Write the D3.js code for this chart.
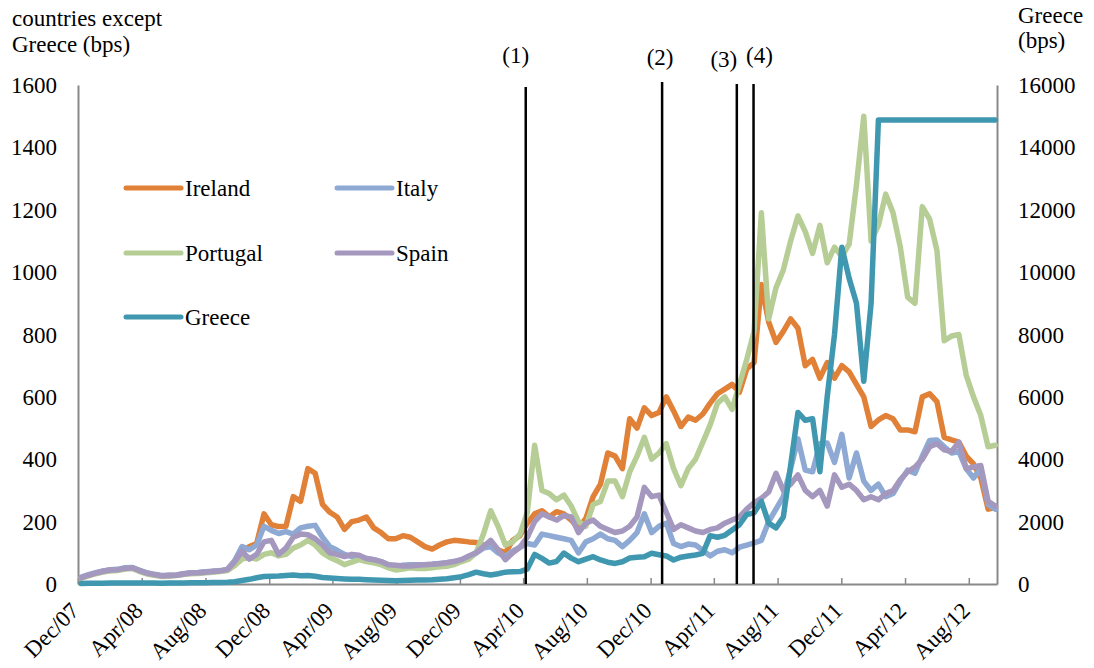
<!DOCTYPE html>
<html><head><meta charset="utf-8">
<script src="https://cdn.jsdelivr.net/npm/d3@7"></script>
<style>
body{margin:0;background:#fff}
svg text{font-family:"Liberation Serif","Times New Roman",serif;fill:#000}
</style>
</head><body>
<svg id="chart" width="1094" height="668"></svg>
<script>
// ---------------- DATA ----------------
const seriesStart = "2007-12-07";   // first observation
const seriesStepDays = 14;          // observations every two weeks

const ireland = [20,28,35,40,44,45,50,52,42,34,30,26,27,28,32,35,36,38,40,42,45,
  60,105,120,130,225,190,184,185,280,265,
  370,355,255,230,215,175,200,205,215,180,
  165,145,145,155,150,135,120,112,125,135,
  140,138,135,133,125,120,110,100,140,155,
  195,225,235,215,232,225,205,180,210,280,
  320,420,410,370,530,500,565,540,550,600,
  555,505,535,525,545,580,610,625,640,615,
  690,710,960,840,775,810,850,820,700,720,
  660,710,660,700,680,640,600,505,526,540,
  530,494,494,488,600,610,585,470,462,455,
  410,385,340,240,245];

const italy = [22,30,36,42,46,47,52,53,44,36,31,27,28,29,33,36,37,39,41,43,47,
  75,120,110,125,185,172,162,168,160,180,
  185,188,150,120,108,95,88,84,82,78,
  72,62,56,60,62,62,62,63,66,68,
  72,78,85,100,115,120,100,88,105,118,
  130,125,160,155,150,145,140,100,135,145,
  160,145,140,120,140,165,225,165,185,195,
  130,120,128,125,108,90,105,110,100,118,
  125,132,140,200,240,280,370,465,365,360,
  450,452,390,480,340,420,330,300,320,280,
  290,330,365,355,410,460,462,440,420,425,
  370,340,370,255,240];

const portugal = [18,26,33,38,42,43,48,50,40,32,28,24,25,27,30,33,34,36,38,40,43,
  60,80,85,80,95,100,90,95,115,125,
  140,125,100,85,75,62,70,78,72,68,
  62,52,45,48,52,50,50,52,55,57,
  62,72,80,100,160,235,185,125,135,160,
  230,445,300,290,270,285,250,200,185,255,
  265,330,330,280,360,410,470,400,420,450,
  370,315,370,400,455,510,580,600,560,640,
  720,810,1190,850,950,1007,1100,1180,1130,1060,
  1150,1030,1080,1050,1090,1280,1500,1100,1150,1250,
  1190,1080,920,900,1210,1170,1070,780,795,800,
  670,600,540,440,445];

const spain = [20,28,35,41,45,46,50,52,43,35,30,26,27,28,32,35,36,38,40,42,46,
  72,105,80,95,135,140,95,115,150,160,
  158,145,125,100,95,88,95,92,82,78,
  72,62,60,58,58,60,62,63,65,68,
  72,78,90,100,120,140,110,78,100,118,
  150,200,225,215,205,220,215,165,195,205,
  185,175,165,170,185,215,310,280,285,230,
  175,190,180,170,165,175,180,195,205,215,
  240,260,275,295,355,300,320,350,300,280,
  300,250,350,310,320,300,270,280,270,290,
  300,335,360,375,400,440,450,430,425,455,
  370,375,380,265,250];

// Greece, right axis
const greece = [20,22,25,28,30,32,35,35,32,30,30,28,30,32,35,38,40,42,45,50,55,
  70,110,150,200,240,250,255,270,290,265,
  270,250,210,190,175,160,150,150,140,130,
  120,110,105,110,120,125,128,135,150,170,
  200,235,300,380,330,290,330,380,395,400,
  480,950,820,670,720,990,830,715,800,875,
  770,700,660,715,834,860,875,984,940,900,
  770,860,900,930,984,1550,1500,1560,1730,1900,
  2230,2280,2650,1950,1800,2150,3800,5500,5250,5300,
  3600,6000,8000,10800,9800,9000,6500,9000,14876,14876,
  14876,14876,14876,14876,14876,14876,14876,14876,14876,14876,
  14876,14876,14876,14876,14876];

const seriesNames = ["Ireland","Italy","Portugal","Spain","Greece"];
const tickLabels = ["Dec/07","Apr/08","Aug/08","Dec/08","Apr/09","Aug/09","Dec/09","Apr/10",
  "Aug/10","Dec/10","Apr/11","Aug/11","Dec/11","Apr/12","Aug/12"];
const tickDates = ["2007-12-01","2008-04-01","2008-08-01","2008-12-01","2009-04-01","2009-08-01",
  "2009-12-01","2010-04-01","2010-08-01","2010-12-01","2011-04-01","2011-08-01","2011-12-01",
  "2012-04-01","2012-08-01"];
const leftTicks = [0,200,400,600,800,1000,1200,1400,1600];
const rightTicks = [0,2000,4000,6000,8000,10000,12000,14000,16000];
const eventLabels = ["(1)","(2)","(3)","(4)"];
const eventDates = ["2010-04-06","2010-12-23","2011-05-15","2011-06-16"];
const axisStart = "2007-12-01", axisEnd = "2012-09-24";

// ---------------- STYLE / LAYOUT ----------------
const colors = {Ireland:"#E08137", Italy:"#8EA9D3", Portugal:"#B6CD96", Spain:"#A598BF", Greece:"#4098B0"};
const M = {left:78, right:997, top:85, bottom:584};
const fontSize = 23;
const eventLabelDx = [-10, -2, -13, 6];
const eventLabelY = [63, 65, 67, 63];
const eventTopY = [87, 82, 84, 84];

const parse = d3.timeParse("%Y-%m-%d");
const svg = d3.select("#chart");

const x = d3.scaleTime().domain([parse(axisStart), parse(axisEnd)]).range([M.left, M.right]);
const yL = d3.scaleLinear().domain([0,1600]).range([M.bottom, M.top]);
const yR = d3.scaleLinear().domain([0,16000]).range([M.bottom, M.top]);

const start = parse(seriesStart);
const dates = ireland.map((_, i) => d3.timeDay.offset(start, i * seriesStepDays));

// axes
const axisColor = "#898989";
const fmt = d3.format("d");
const gL = svg.append("g").attr("transform",`translate(${M.left},0)`)
  .call(d3.axisLeft(yL).tickValues(leftTicks).tickFormat(fmt).tickSize(0).tickPadding(21));
const gR = svg.append("g").attr("transform",`translate(${M.right},0)`)
  .call(d3.axisRight(yR).tickValues(rightTicks).tickFormat(fmt).tickSize(0).tickPadding(21));
const gB = svg.append("g").attr("transform",`translate(0,${M.bottom})`)
  .call(d3.axisBottom(x).tickValues(tickDates.map(parse)).tickSizeInner(-6).tickSizeOuter(0)
    .tickFormat((d,i) => tickLabels[i]));
[gL,gR,gB].forEach(g => {
  g.select(".domain").attr("stroke", axisColor).attr("stroke-width", 2);
  g.selectAll(".tick line").attr("stroke", axisColor).attr("stroke-width", 1.5);
  g.selectAll("text").attr("font-size", fontSize).attr("fill","#000")
    .style("font-family",'"Liberation Serif","Times New Roman",serif');
});
gL.selectAll(".tick text").attr("dy","0.33em");
gR.selectAll(".tick text").attr("dy","0.33em");
gB.selectAll(".tick text").attr("y",0).attr("dy",0).attr("text-anchor","end")
  .attr("transform","translate(2,28) rotate(-45)");

// lines
const lineL = d3.line().x((d,i)=>x(dates[i])).y(d=>yL(d));
const lineR = d3.line().x((d,i)=>x(dates[i])).y(d=>yR(d));
const leftSeries = [["Ireland",ireland],["Italy",italy],["Portugal",portugal],["Spain",spain]];
leftSeries.forEach(([name, vals]) => {
  svg.append("path").attr("d", lineL(vals)).attr("fill","none")
    .attr("stroke", colors[name]).attr("stroke-width",5.5)
    .attr("stroke-linejoin","round").attr("stroke-linecap","round");
});
svg.append("path").attr("d", lineR(greece)).attr("fill","none")
  .attr("stroke", colors.Greece).attr("stroke-width",5.5)
  .attr("stroke-linejoin","round").attr("stroke-linecap","round");

// event lines
eventDates.forEach((ds,i) => {
  const xe = x(parse(ds));
  svg.append("line").attr("x1",xe).attr("x2",xe).attr("y1",eventTopY[i]).attr("y2",M.bottom)
    .attr("stroke","#000").attr("stroke-width",2.5);
  svg.append("text").attr("x", xe + eventLabelDx[i]).attr("y", eventLabelY[i])
    .attr("text-anchor","middle").attr("font-size",fontSize).text(eventLabels[i]);
});

// axis titles
svg.append("text").attr("x",12).attr("y",26).attr("font-size",fontSize).text("countries except");
svg.append("text").attr("x",12).attr("y",52).attr("font-size",fontSize).text("Greece (bps)");
svg.append("text").attr("x",1018).attr("y",23).attr("font-size",fontSize).text("Greece");
svg.append("text").attr("x",1018).attr("y",48).attr("font-size",fontSize).text("(bps)");

// legend
const legCols = [126, 337], legRows = [188, 253, 317];
seriesNames.forEach((name,i) => {
  const lx = legCols[i % 2], ly = legRows[Math.floor(i/2)];
  svg.append("line").attr("x1",lx).attr("x2",lx+55).attr("y1",ly).attr("y2",ly)
    .attr("stroke",colors[name]).attr("stroke-width",5).attr("stroke-linecap","round");
  svg.append("text").attr("x",lx+59).attr("y",ly).attr("dy","0.33em")
    .attr("font-size",fontSize).text(name);
});
</script>
</body></html>
